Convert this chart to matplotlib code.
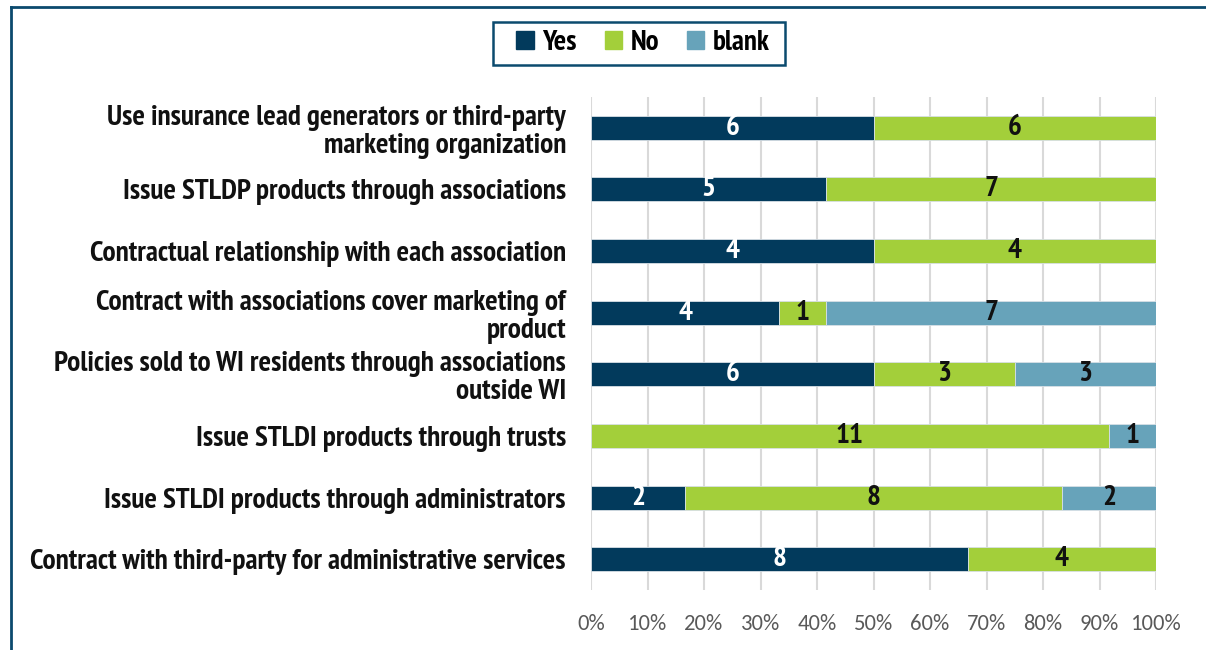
import matplotlib
matplotlib.use("Agg")
import matplotlib.pyplot as plt
import matplotlib.font_manager as fm
from matplotlib.lines import Line2D
from matplotlib.patches import Rectangle
import numpy as np

categories = [
    "Use insurance lead generators or third-party\nmarketing organization",
    "Issue STLDP products through associations",
    "Contractual relationship with each association",
    "Contract with associations cover marketing of\nproduct",
    "Policies sold to WI residents through associations\noutside WI",
    "Issue STLDI products through trusts",
    "Issue STLDI products through administrators",
    "Contract with third-party for administrative services",
]
yes_vals = [6, 5, 4, 4, 6, 0, 2, 8]
no_vals = [6, 7, 4, 1, 3, 11, 8, 4]
blank_vals = [0, 0, 0, 7, 3, 1, 2, 0]
series_names = ["Yes", "No", "blank"]
tick_labels = ["0%", "10%", "20%", "30%", "40%", "50%", "60%", "70%", "80%", "90%", "100%"]

colors = ["#023A5C", "#A3CF3A", "#67A3BA"]
text_colors = ["white", "#111111", "#111111"]

bold_names = {f.name for f in fm.fontManager.ttflist if f.weight in (600, 700, "bold", 800)}
all_names = {f.name for f in fm.fontManager.ttflist}
narrow_candidates = ["Arial Narrow", "Liberation Sans Narrow", "Nimbus Sans Narrow",
                     "Archivo Narrow", "PT Sans Narrow", "Roboto Condensed",
                     "Pragati Narrow", "Encode Sans Condensed", "Liberation Sans"]
bold_font = next((n for n in narrow_candidates if n in bold_names), "Liberation Sans")
tick_candidates = ["Carlito", "Calibri", "Lato", "Open Sans", "DejaVu Sans"]
tick_font = next((n for n in tick_candidates if n in all_names), "DejaVu Sans")

fig = plt.figure(figsize=(12.06, 6.5), dpi=100)
renderer = fig.canvas.get_renderer()

def fit_size(text, target_px, **kw):
    p = fig.text(0, 0, text, fontsize=16, **kw)
    w = p.get_window_extent(renderer).width
    p.remove()
    return 16 * target_px / w

lab_size = fit_size(categories[-1], 536, fontweight="bold", family=bold_font)
tick_size = fit_size("100%", 51, family=tick_font)
leg_size = fit_size("blank", 57, fontweight="bold", family=bold_font)

ax = fig.add_axes([591/1206, 1 - 590/650, (1156-591)/1206, (590-97)/650])

data = np.array([yes_vals, no_vals, blank_vals], dtype=float)
totals = data.sum(axis=0)
frac = data / totals
y = np.arange(len(categories))
left = np.zeros(len(categories))
for i in range(3):
    ax.barh(y, frac[i], left=left, height=0.39, color=colors[i],
            edgecolor="#D8E0E6", linewidth=0.6, zorder=3)
    for j in range(len(categories)):
        if data[i, j] > 0:
            ax.text(left[j] + frac[i, j] / 2, y[j], f"{int(data[i, j])}",
                    ha="center", va="center", color=text_colors[i],
                    fontsize=lab_size, fontweight="bold", family=bold_font, zorder=4)
    left += frac[i]

ax.set_ylim(len(categories) - 0.5, -0.5)
ax.set_xlim(0, 1)
ax.set_xticks(np.linspace(0, 1, 11))
ax.set_xticklabels(tick_labels, fontsize=tick_size, color="#595959", family=tick_font)
ax.xaxis.grid(True, color="#D9D9D9", linewidth=1.5, zorder=0)
ax.set_axisbelow(True)
ax.set_yticks(y)
ax.set_yticklabels(categories, fontsize=lab_size, fontweight="bold", family=bold_font,
                   color="#111111", multialignment="right", linespacing=1.1)
ax.tick_params(axis="y", length=0, pad=18)
ax.tick_params(axis="x", length=0, pad=17)
for s in ax.spines.values():
    s.set_visible(False)

handles = [plt.Rectangle((0, 0), 1, 1, color=c) for c in colors]
leg = fig.legend(handles, series_names, loc="center", bbox_to_anchor=(643/1206, 1 - 43/650),
                 ncol=3, frameon=False, handlelength=0.6, handleheight=0.6,
                 handletextpad=0.3, columnspacing=0.95, borderpad=0.2,
                 prop={"family": bold_font, "weight": "bold", "size": leg_size})
fig.add_artist(Rectangle((493/1206, 1 - 65/650), (785-493)/1206, 43/650,
                         transform=fig.transFigure, fill=False,
                         edgecolor="#0B4A6E", linewidth=1.8))

# outer frame lines
fig.add_artist(Line2D([11/1206, 11/1206], [0, 1 - 7/650], transform=fig.transFigure,
                      color="#0B4A6E", linewidth=2))
fig.add_artist(Line2D([11/1206, 1], [1 - 7/650, 1 - 7/650], transform=fig.transFigure,
                      color="#0B4A6E", linewidth=2))

fig.savefig("out.png", dpi=100)
